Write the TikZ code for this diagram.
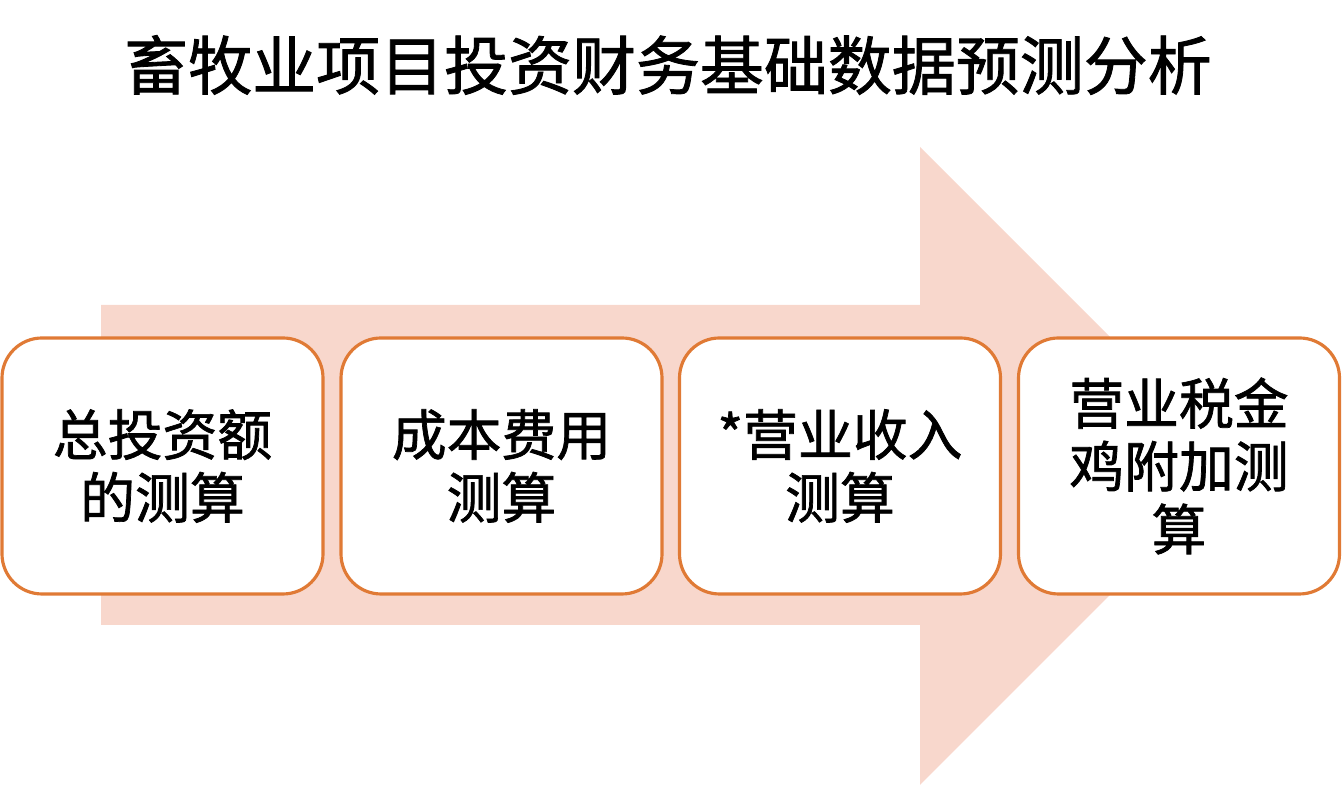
\documentclass[tikz,border=0pt]{standalone}
\usepackage{fontspec}
\setmainfont{Noto Sans CJK SC}
\newfontfamily\medfont{Noto Sans CJK SC}[FakeBold=1.3]
\usepackage{tikz}
\usetikzlibrary{positioning,calc}
\definecolor{orange}{HTML}{E07A35}
\definecolor{peach}{HTML}{F8D7CC}
\definecolor{black}{HTML}{000000}

\begin{document}
\begin{tikzpicture}[
        box/.style={draw=orange, fill=white, line width=0.9pt, rounded corners=0.4cm,
                    minimum width=3.21cm, minimum height=2.56cm, align=center,
                    font=\medfont\fontsize{15.6}{17.9}\selectfont},
      ]
        \useasboundingbox (0,0) rectangle (13.42,7.86);

        % Title
        \node[font=\medfont\fontsize{18.2}{22}\selectfont] (title) at (6.68,7.21)
            {畜牧业项目投资财务基础数据预测分析};

        % Big arrow behind the boxes
        \fill[peach] (1.01,4.81) -- (9.20,4.81) -- (9.20,6.39) -- (12.39,3.20)
            -- (9.20,0.01) -- (9.20,1.61) -- (1.01,1.61) -- cycle;

        % Steps
        \node[box] (invest) at (1.625,3.20) {总投资额\\的测算};
        \node[box] (cost) at (5.015,3.20) {成本费用\\测算};
        \node[box] (income) at (8.40,3.20) {*营业收入\\测算};
        \node[box] (tax) at (11.79,3.20) {营业税金\\鸡附加测\\算};
      \end{tikzpicture}
\end{document}
